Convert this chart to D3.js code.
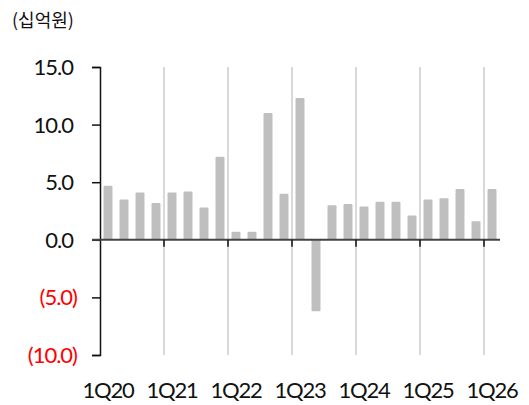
<!DOCTYPE html>
<html>
<head>
<meta charset="utf-8">
<script src="https://cdn.jsdelivr.net/npm/d3@7"></script>
<style>
  body { margin: 0; background: #fff; }
  text { font-family: Lato, "Noto Sans", sans-serif; fill: #111; }
</style>
</head>
<body>
<div id="chart"></div>
<script>
// quarterly values (십억원), 1Q20 .. 1Q26
const quarters = [
    "1Q20", "2Q20", "3Q20", "4Q20",
    "1Q21", "2Q21", "3Q21", "4Q21",
    "1Q22", "2Q22", "3Q22", "4Q22",
    "1Q23", "2Q23", "3Q23", "4Q23",
    "1Q24", "2Q24", "3Q24", "4Q24",
    "1Q25", "2Q25", "3Q25", "4Q25",
    "1Q26"
];
const values = [
    4.7, 3.5, 4.1, 3.2,
    4.1, 4.2, 2.8, 7.2,
    0.7, 0.7, 11.0, 4.0,
    12.3, -6.2, 3.0, 3.1,
    2.9, 3.3, 3.3, 2.1,
    3.5, 3.6, 4.4, 1.6,
    4.4
];
const yTicks = [15, 10, 5, 0, -5, -10];
const unitLabel = "(십억원)";

const width = 529, height = 405;
const margin = { top: 67, right: 29, bottom: 50, left: 100 };

const svg = d3.select("#chart").append("svg")
    .attr("width", width)
    .attr("height", height);

const x = d3.scaleBand()
    .domain(quarters)
    .range([margin.left, width - margin.right])
    .paddingInner(0.44)
    .paddingOuter(0.22);

const y = d3.scaleLinear()
    .domain([-10, 15])
    .range([height - margin.bottom, margin.top]);

const yearStarts = quarters.filter(q => q.startsWith("1Q"));
const boundaries = yearStarts.slice(1);
// year boundary sits half a step left of the first quarter's band centre
const boundaryX = q => x(q) + x.bandwidth() / 2 - x.step() / 2;

// light vertical year separators
svg.append("g")
    .selectAll("line")
    .data(boundaries)
    .join("line")
      .attr("x1", boundaryX)
      .attr("x2", boundaryX)
      .attr("y1", y(15))
      .attr("y2", y(-10))
      .style("stroke", "#d9d9d9")
      .style("stroke-width", 2);

// bars
svg.append("g")
    .selectAll("rect")
    .data(values)
    .join("rect")
      .attr("x", (d, i) => x(quarters[i]))
      .attr("width", x.bandwidth())
      .attr("y", d => y(Math.max(0, d)))
      .attr("height", d => Math.abs(y(d) - y(0)))
      .attr("rx", 1)
      .attr("fill", "#bfbfbf");

// y axis
const yAxis = svg.append("g")
    .attr("transform", `translate(${margin.left},0)`)
    .call(d3.axisLeft(y)
      .tickValues(yTicks)
      .tickSize(8)
      .tickFormat(""));
yAxis.select(".domain").attr("stroke", "#111").attr("stroke-width", 1.5);
yAxis.selectAll(".tick line").attr("stroke", "#111").attr("stroke-width", 1.5);

svg.append("g")
    .selectAll("text")
    .data(yTicks)
    .join("text")
      .attr("x", d => d < 0 ? 77 : 73)
      .attr("y", d => y(d))
      .attr("dy", "0.36em")
      .attr("text-anchor", "end")
      .attr("font-size", 22)
      .attr("letter-spacing", -1)
      .style("fill", d => d < 0 ? "#ff0000" : "#111")
      .text(d => d < 0 ? `(${Math.abs(d).toFixed(1)})` : d.toFixed(1));

// zero line
svg.append("line")
    .attr("x1", margin.left - 8)
    .attr("x2", width - margin.right)
    .attr("y1", y(0))
    .attr("y2", y(0))
    .style("stroke", "#444")
    .style("stroke-width", 2);

// year ticks below zero line
svg.append("g")
    .selectAll("line")
    .data(boundaries)
    .join("line")
      .attr("x1", boundaryX)
      .attr("x2", boundaryX)
      .attr("y1", y(0))
      .attr("y2", y(0) + 7)
      .style("stroke", "#111")
      .style("stroke-width", 1.5);

// x labels at first quarter of each year
svg.append("g")
    .selectAll("text")
    .data(yearStarts)
    .join("text")
      .attr("x", d => x(d) + x.bandwidth() / 2)
      .attr("y", 398)
      .attr("text-anchor", "middle")
      .attr("font-size", 22)
      .attr("letter-spacing", -1.2)
      .text(d => d);

// unit label
svg.append("text")
    .attr("x", 12)
    .attr("y", 27)
    .attr("font-size", 18)
    .style("font-family", "'Noto Sans CJK KR', sans-serif")
    .text(unitLabel);
</script>
</body>
</html>
